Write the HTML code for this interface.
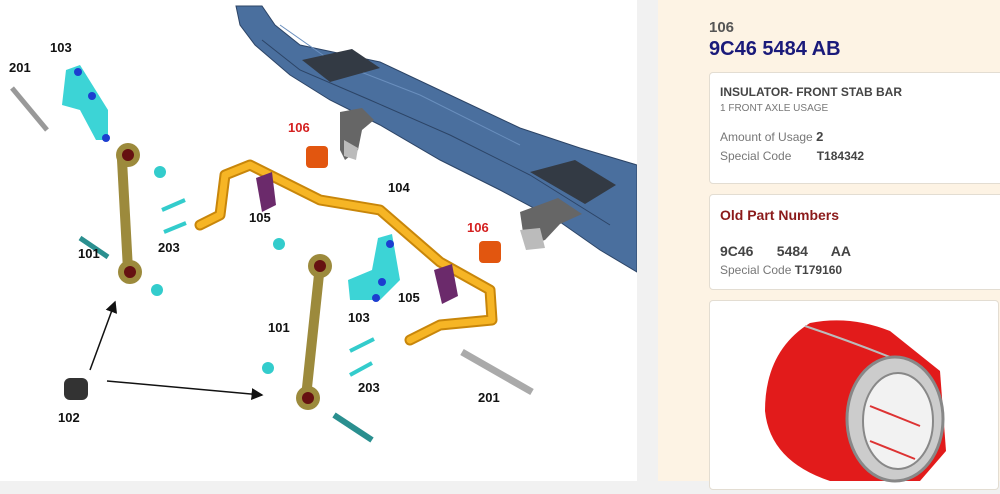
<!DOCTYPE html>
<html><head><style>
body{margin:0;width:1000px;height:488px;background:#f1f1f1;font-family:"Liberation Sans",Arial,sans-serif;position:relative;overflow:hidden}
#left{position:absolute;left:0;top:0;width:637px;height:481px;background:#fff}
#right{position:absolute;left:658px;top:0;width:342px;height:481px;background:#fdf3e4}
.card{position:absolute;left:51px;width:300px;background:#fff;border:1px solid #e3ddd2;border-radius:4px}
.g{color:#777;font-size:12px}
.b{color:#444;font-weight:bold}
</style></head><body>
<div id="left">
<svg width="637" height="481" viewBox="0 0 637 481" font-family="Liberation Sans, Arial, sans-serif" font-weight="bold" font-size="13">
<!-- frame -->
<path d="M236,6 L262,6 L275,25 L300,45 L380,62 L450,95 L520,128 L580,148 L637,165 L637,272 L600,250 L560,222 L500,190 L440,160 L380,125 L330,100 L290,75 L255,45 L240,25 Z" fill="#4a6f9e" stroke="#2c4466" stroke-width="1"/>
<path d="M262,40 L300,70 L370,100 L450,135 L530,175 L610,225" stroke="#2c4466" fill="none"/>
<path d="M280,25 L330,60 L420,95 L520,145" stroke="#6a8fbe" fill="none"/>
<polygon points="302,60 352,49 380,68 330,82" fill="#333a44"/>
<polygon points="530,172 575,160 616,185 585,204" fill="#333a44"/>
<!-- black brackets -->
<path d="M340,112 L362,108 L374,120 L362,130 L358,150 L345,160 L340,150 Z" fill="#666"/>
<path d="M344,140 L358,148 L356,160 L344,156 Z" fill="#bbb"/>
<path d="M520,212 L558,198 L582,214 L560,224 L545,240 L525,246 Z" fill="#666"/>
<path d="M520,230 L540,228 L545,248 L526,250 Z" fill="#bbb"/>
<!-- 106 bushings -->
<rect x="306" y="146" width="22" height="22" rx="4" fill="#e2560f"/>
<rect x="479" y="241" width="22" height="22" rx="4" fill="#e2560f"/>
<!-- stab bar -->
<path d="M200,225 L220,215 L225,175 L250,165 L320,200 L380,210 L440,262 L490,290 L492,320 L440,325 L410,340" stroke="#c8860a" stroke-width="11" fill="none" stroke-linejoin="round" stroke-linecap="round"/>
<path d="M200,225 L220,215 L225,175 L250,165 L320,200 L380,210 L440,262 L490,290 L492,320 L440,325 L410,340" stroke="#f6b525" stroke-width="7" fill="none" stroke-linejoin="round" stroke-linecap="round"/>
<!-- 105 -->
<path d="M256,178 L272,172 L276,205 L262,212 Z" fill="#6b2a6b"/>
<path d="M434,270 L452,264 L458,296 L442,304 Z" fill="#6b2a6b"/>
<!-- 103 -->
<path d="M66,70 L80,65 L108,110 L108,140 L96,140 L80,110 L62,105 Z" fill="#3cd4d6"/>
<circle cx="78" cy="72" r="4" fill="#1c3ed0"/><circle cx="92" cy="96" r="4" fill="#1c3ed0"/><circle cx="106" cy="138" r="4" fill="#1c3ed0"/>
<path d="M378,238 L392,234 L400,280 L380,300 L350,300 L348,280 L372,270 Z" fill="#3cd4d6"/>
<circle cx="390" cy="244" r="4" fill="#1c3ed0"/><circle cx="382" cy="282" r="4" fill="#1c3ed0"/><circle cx="376" cy="298" r="4" fill="#1c3ed0"/>
<!-- 101 links -->
<path d="M122,160 L128,270" stroke="#9c8a3c" stroke-width="10" stroke-linecap="round"/>
<circle cx="128" cy="155" r="12" fill="#9c8a3c"/><circle cx="128" cy="155" r="6" fill="#611"/>
<circle cx="130" cy="272" r="12" fill="#9c8a3c"/><circle cx="130" cy="272" r="6" fill="#611"/>
<path d="M320,265 L306,397" stroke="#9c8a3c" stroke-width="10" stroke-linecap="round"/>
<circle cx="320" cy="266" r="12" fill="#9c8a3c"/><circle cx="320" cy="266" r="6" fill="#611"/>
<circle cx="308" cy="398" r="12" fill="#9c8a3c"/><circle cx="308" cy="398" r="6" fill="#611"/>
<!-- bolts -->
<line x1="12" y1="88" x2="47" y2="130" stroke="#999" stroke-width="5"/>
<line x1="80" y1="238" x2="108" y2="257" stroke="#2a8f8f" stroke-width="5"/>
<line x1="334" y1="415" x2="372" y2="440" stroke="#2a8f8f" stroke-width="6"/>
<line x1="462" y1="352" x2="532" y2="392" stroke="#aaa" stroke-width="7"/>
<line x1="162" y1="210" x2="185" y2="200" stroke="#3cc" stroke-width="4"/>
<line x1="164" y1="232" x2="186" y2="223" stroke="#3cc" stroke-width="4"/>
<line x1="350" y1="351" x2="374" y2="339" stroke="#3cc" stroke-width="4"/>
<line x1="350" y1="375" x2="372" y2="363" stroke="#3cc" stroke-width="4"/>
<circle cx="160" cy="172" r="6" fill="#3cc"/><circle cx="157" cy="290" r="6" fill="#3cc"/>
<circle cx="279" cy="244" r="6" fill="#3cc"/><circle cx="268" cy="368" r="6" fill="#3cc"/>
<!-- 102 -->
<rect x="64" y="378" width="24" height="22" rx="6" fill="#333"/>
<!-- arrows -->
<defs><marker id="a" markerWidth="8" markerHeight="8" refX="7" refY="4" orient="auto"><path d="M0,0 L8,4 L0,8 Z" fill="#111"/></marker></defs>
<line x1="90" y1="370" x2="115" y2="302" stroke="#111" stroke-width="1.5" marker-end="url(#a)"/>
<line x1="107" y1="381" x2="262" y2="395" stroke="#111" stroke-width="1.5" marker-end="url(#a)"/>
<!-- labels -->
<g fill="#111">
<text x="50" y="52">103</text><text x="9" y="72">201</text><text x="78" y="258">101</text>
<text x="158" y="252">203</text><text x="249" y="222">105</text><text x="388" y="192">104</text>
<text x="398" y="302">105</text><text x="348" y="322">103</text><text x="268" y="332">101</text>
<text x="358" y="392">203</text><text x="478" y="402">201</text><text x="58" y="422">102</text>
</g>
<g fill="#d42020"><text x="288" y="132">106</text><text x="467" y="232">106</text></g>
</svg>
</div>
<div id="right">
<div style="position:absolute;left:51px;top:19px;font-size:15px;font-weight:bold;color:#555">106</div>
<div style="position:absolute;left:51px;top:38px;font-size:20px;font-weight:bold;color:#1a1a7a">9C46 5484 AB</div>
<div class="card" style="top:72px;height:110px">
 <div style="position:absolute;left:10px;top:12px;font-size:12px" class="b">INSULATOR- FRONT STAB BAR</div>
 <div style="position:absolute;left:10px;top:30px;font-size:10px;color:#777">1 FRONT AXLE USAGE</div>
 <div style="position:absolute;left:10px;top:56px" class="g">Amount of Usage <span class="b" style="font-size:13px">2</span></div>
 <div style="position:absolute;left:10px;top:76px" class="g">Special Code <span class="b" style="margin-left:22px">T184342</span></div>
</div>
<div class="card" style="top:194px;height:94px">
 <div style="position:absolute;left:10px;top:12px;font-size:14px;font-weight:bold;color:#8b1a1a">Old Part Numbers</div>
 <div style="position:absolute;left:10px;top:48px;font-size:14px" class="b">9C46 &nbsp;&nbsp;&nbsp;&nbsp; 5484 &nbsp;&nbsp;&nbsp;&nbsp; AA</div>
 <div style="position:absolute;left:10px;top:68px" class="g">Special Code <span class="b">T179160</span></div>
</div>
<div class="card" style="top:300px;height:188px;width:288px">
<svg width="288" height="188">
<path d="M100,22 Q140,14 180,30 L230,70 L236,150 L210,180 L120,180 Q60,160 55,110 Q55,50 100,22 Z" fill="#e21b1b"/>
<path d="M95,25 Q140,40 190,60" stroke="#bbb" stroke-width="2" fill="none"/>
<ellipse cx="185" cy="118" rx="48" ry="62" fill="#ccc" stroke="#888" stroke-width="3"/>
<ellipse cx="188" cy="120" rx="35" ry="48" fill="#f2f2f2" stroke="#888" stroke-width="2"/>
<line x1="160" y1="105" x2="210" y2="125" stroke="#d33" stroke-width="2"/>
<line x1="160" y1="140" x2="205" y2="158" stroke="#d33" stroke-width="2"/>
</svg>
</div>
</div>
</body></html>
